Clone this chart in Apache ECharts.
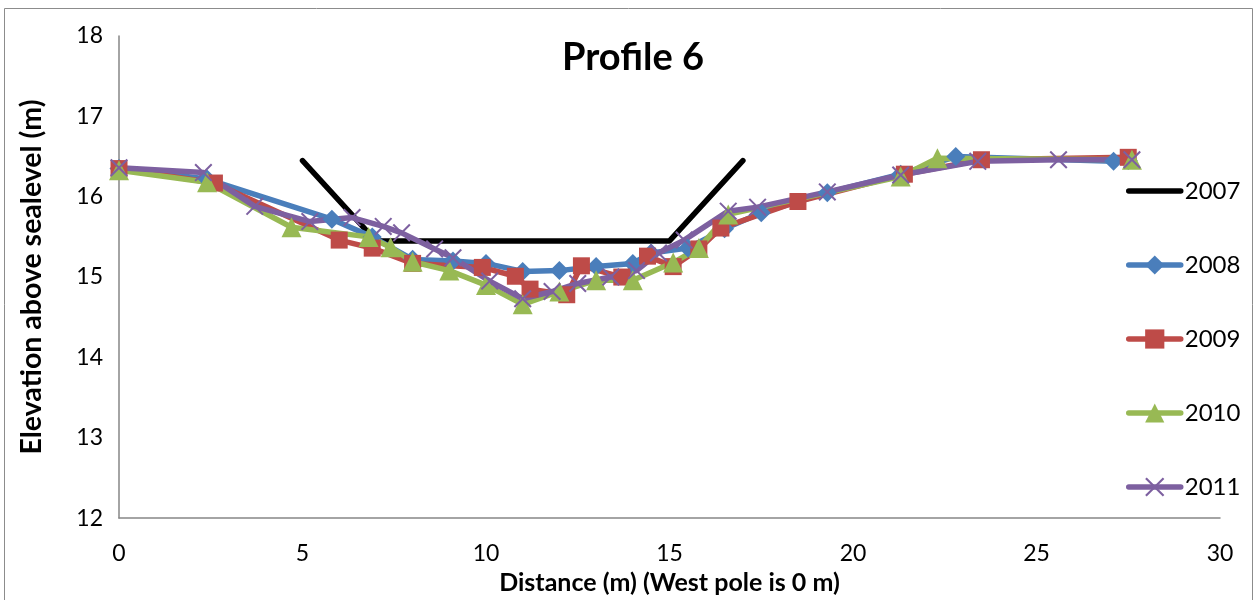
<!DOCTYPE html>
<html>
<head>
<meta charset="utf-8">
<title>Profile 6</title>
<script src="https://cdn.jsdelivr.net/npm/echarts@6/dist/echarts.min.js"></script>
<style>
  html, body { margin: 0; padding: 0; background: #ffffff; }
  #chart { width: 1258px; height: 600px; }
</style>
</head>
<body>
<div id="chart"></div>
<script>
// Cross-section survey of profile 6: distance from the west pole (m) vs elevation (m)
const years = ['2007', '2008', '2009', '2010', '2011'];

const profile2007 = [[5, 16.45], [7, 15.45], [15, 15.45], [17, 16.45]];

const profile2008 = [
  [0, 16.35], [2.4, 16.22], [5.8, 15.72], [6.9, 15.5], [8, 15.22], [9.1, 15.2],
  [10, 15.17], [11, 15.07], [12, 15.08], [13, 15.13], [14, 15.17], [14.5, 15.3],
  [15.5, 15.36], [16.5, 15.6], [17.5, 15.8], [19.3, 16.05], [21.3, 16.28],
  [22.8, 16.5], [27.1, 16.44], [27.5, 16.45]
];

const profile2009 = [
  [0, 16.35], [2.6, 16.17], [6, 15.46], [6.9, 15.36], [8, 15.17], [9.9, 15.12],
  [10.8, 15.01], [11.2, 14.85], [12.2, 14.78], [12.6, 15.14], [13.7, 15.0],
  [14.4, 15.26], [15.1, 15.13], [15.8, 15.35], [16.4, 15.61], [18.5, 15.94],
  [21.4, 16.28], [23.5, 16.46], [27.5, 16.49]
];

const profile2010 = [
  [0, 16.33], [2.4, 16.18], [4.7, 15.62], [6.8, 15.5], [7.4, 15.37], [8, 15.19],
  [9, 15.08], [10, 14.9], [11, 14.66], [12, 14.82], [13, 14.96], [14, 14.96],
  [15.1, 15.18], [15.8, 15.36], [16.6, 15.78], [21.3, 16.25], [22.3, 16.48],
  [27.6, 16.46]
];

const profile2011 = [
  [0, 16.36], [2.3, 16.3], [3.7, 15.88], [5.2, 15.69], [6.35, 15.74], [7.2, 15.63],
  [7.7, 15.55], [8.6, 15.35], [9.1, 15.24], [10.1, 14.95], [11, 14.73],
  [11.8, 14.82], [12.5, 14.92], [13.4, 15.0], [14.1, 15.08], [14.7, 15.3],
  [15.4, 15.46], [16.6, 15.82], [17.4, 15.87], [19.3, 16.06], [21.3, 16.27],
  [23.4, 16.44], [25.6, 16.46], [27.6, 16.46]
];

const xTicks = { min: 0, max: 30, step: 5 };
const yTicks = { min: 12, max: 18, step: 1 };

const FONT = 'Lato, "Liberation Sans", sans-serif';
const LINE_W = 5.5;

// "x" marker drawn as two thin filled bars
const crossSymbol = 'path://M0,1.6L1.6,0L20,18.4L18.4,20Z M18.4,0L20,1.6L1.6,20L0,18.4Z';

function lineSeries(name, data, color, symbol, size) {
  return {
    name: name,
    type: 'line',
    data: data,
    symbol: symbol,
    symbolSize: size,
    showSymbol: symbol !== 'none',
    lineStyle: { color: color, width: LINE_W, cap: 'round', join: 'round' },
    itemStyle: { color: color, borderWidth: 0 },
    emphasis: { disabled: true },
    animation: false
  };
}

const chart = echarts.init(document.getElementById('chart'), null, { renderer: 'canvas' });

chart.setOption({
  backgroundColor: '#ffffff',
  animation: false,
  graphic: [{
    type: 'rect',
    shape: { x: 4.5, y: 8.5, width: 1248, height: 620 },
    style: { fill: 'none', stroke: '#8c8c8c', lineWidth: 1 },
    silent: true,
    z: -10
  }],
  title: {
    text: 'Profile 6',
    left: 628,
    top: 34,
    textAlign: 'center',
    textStyle: { fontFamily: FONT, fontWeight: 'bold', fontSize: 38, color: '#000' }
  },
  grid: { left: 119, right: 38, top: 36, bottom: 81, containLabel: false },
  legend: {
    orient: 'vertical',
    left: 1121,
    top: 174,
    itemWidth: 52,
    itemHeight: 24,
    itemGap: 50,
    data: [
      { name: '2007', itemStyle: { opacity: 0 } },
      { name: '2008' },
      { name: '2009' },
      { name: '2010' },
      { name: '2011' }
    ],
    lineStyle: { width: LINE_W, cap: 'round' },
    textStyle: { fontFamily: FONT, fontSize: 24, color: '#000', padding: [0, 0, 0, -1] },
    selectedMode: false
  },
  xAxis: {
    type: 'value',
    min: xTicks.min,
    max: xTicks.max,
    interval: xTicks.step,
    name: 'Distance (m) (West pole is 0 m)',
    nameLocation: 'middle',
    nameGap: 51,
    nameTextStyle: { fontFamily: FONT, fontWeight: 'bold', fontSize: 25, color: '#000' },
    axisLine: { show: true, lineStyle: { color: '#868686', width: 1.5 } },
    axisTick: { show: false },
    splitLine: { show: false },
    axisLabel: { fontFamily: FONT, fontSize: 23, color: '#000', margin: 24 }
  },
  yAxis: {
    type: 'value',
    min: yTicks.min,
    max: yTicks.max,
    interval: yTicks.step,
    name: 'Elevation above sealevel (m)',
    nameLocation: 'middle',
    nameGap: 73,
    nameTextStyle: { fontFamily: FONT, fontWeight: 'bold', fontSize: 28.5, color: '#000' },
    axisLine: { show: true, lineStyle: { color: '#868686', width: 1.5 } },
    axisTick: { show: false },
    splitLine: { show: false },
    axisLabel: { fontFamily: FONT, fontSize: 23, color: '#000', margin: 16 }
  },
  series: [
    lineSeries('2007', profile2007, '#000000', 'none', 0),
    lineSeries('2008', profile2008, '#4A7EBB', 'diamond', 19),
    lineSeries('2009', profile2009, '#BE4B48', 'rect', 17),
    lineSeries('2010', profile2010, '#98B954', 'triangle', 20),
    lineSeries('2011', profile2011, '#7D60A0', crossSymbol, 18)
  ]
});
</script>
</body>
</html>
